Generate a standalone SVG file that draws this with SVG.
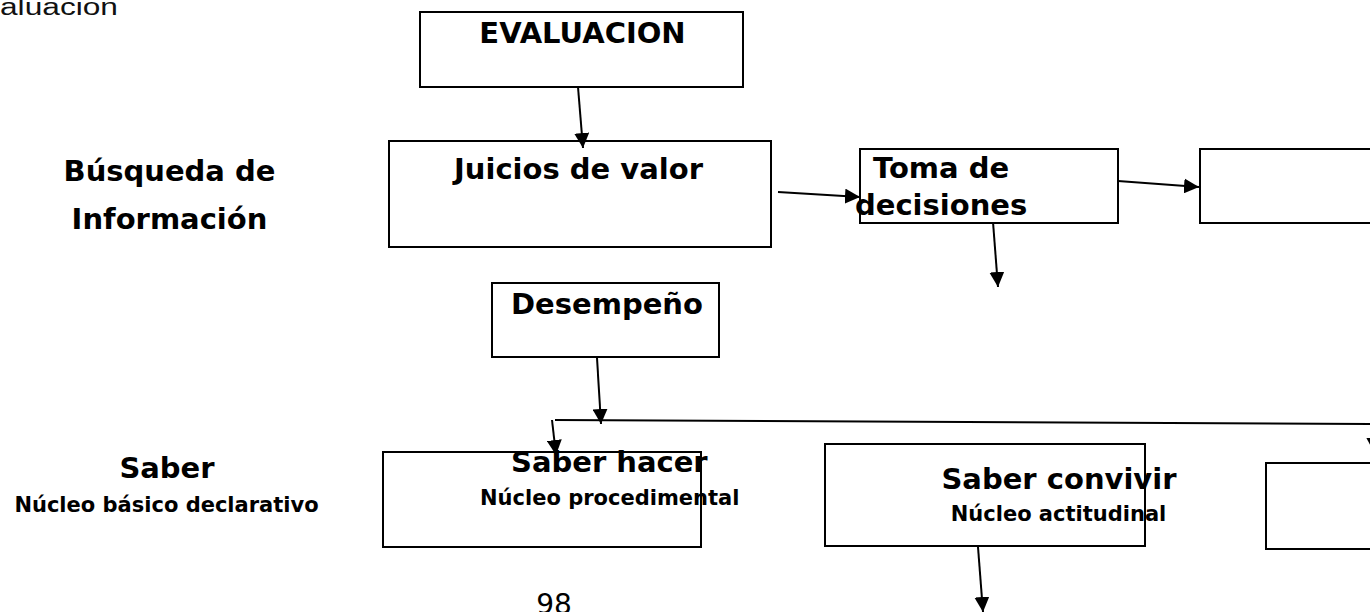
<svg xmlns="http://www.w3.org/2000/svg" width="1370" height="612" viewBox="0 0 1370 612">
<style>
.box{fill:#fff;stroke:#000;stroke-width:2}
.t{font-family:"DejaVu Sans",sans-serif;font-weight:bold;font-size:29px;fill:#000}
.s{font-family:"DejaVu Sans",sans-serif;font-weight:bold;font-size:21px;fill:#000}
.c line{stroke:#000;stroke-width:2;fill:none}
</style>
<defs>
<marker id="a" viewBox="0 0 10 10" refX="10" refY="5" markerWidth="15" markerHeight="15" markerUnits="userSpaceOnUse" orient="auto">
<path d="M0,0 L10,5 L0,10 z" fill="#000"/>
</marker>
</defs>
<text x="0" y="15" font-family="Liberation Sans, Arial, sans-serif" font-size="23" fill="#111" textLength="118" lengthAdjust="spacingAndGlyphs">aluacion</text>
<g id="n-evaluacion"><rect class="box" x="420" y="12" width="323" height="75"/><text class="t" x="582.5" y="43" text-anchor="middle">EVALUACION</text></g>
<g id="n-juicios"><rect class="box" x="389" y="141" width="382" height="106"/><text class="t" x="578.5" y="179" text-anchor="middle">Juicios de valor</text></g>
<g id="n-toma"><rect class="box" x="860" y="149" width="258" height="74"/><text class="t" x="873" y="178">Toma de</text><text class="t" x="855" y="215">decisiones</text></g>
<g id="n-right1"><rect class="box" x="1200" y="149" width="180" height="74"/></g>
<g id="n-desempeno"><rect class="box" x="492" y="283" width="227" height="74"/><text class="t" x="607" y="314" text-anchor="middle">Desempeño</text></g>
<g id="n-saberhacer"><rect class="box" x="383" y="452" width="318" height="95"/><text class="t" x="511" y="472">Saber hacer</text><text class="s" x="480" y="505">Núcleo procedimental</text></g>
<g id="n-saberconvivir"><rect class="box" x="825" y="444" width="320" height="102"/><text class="t" x="1059" y="489" text-anchor="middle">Saber convivir</text><text class="s" x="1058.5" y="521" text-anchor="middle">Núcleo actitudinal</text></g>
<g id="n-right2"><rect class="box" x="1266" y="463" width="120" height="86"/></g>
<g id="l-busqueda"><text class="t" x="169.5" y="181" text-anchor="middle">Búsqueda de</text><text class="t" x="169.5" y="229" text-anchor="middle">Información</text></g>
<g id="l-saber"><text class="t" x="167" y="478" text-anchor="middle">Saber</text><text class="s" x="166.5" y="512" text-anchor="middle">Núcleo básico declarativo</text></g>
<text x="554" y="614" text-anchor="middle" font-family="DejaVu Sans, sans-serif" font-size="28" fill="#000">98</text>
<g class="c" id="connectors">
<line x1="578" y1="87" x2="583" y2="148" marker-end="url(#a)"/>
<line x1="778" y1="192" x2="860" y2="197" marker-end="url(#a)"/>
<line x1="1118" y1="181" x2="1199" y2="187" marker-end="url(#a)"/>
<line x1="993" y1="222" x2="998" y2="287" marker-end="url(#a)"/>
<line x1="597" y1="358" x2="601" y2="424" marker-end="url(#a)"/>
<line x1="555" y1="420" x2="1370" y2="424"/>
<line x1="552" y1="420" x2="556" y2="455" marker-end="url(#a)"/>
<line x1="978" y1="547" x2="983" y2="612" marker-end="url(#a)"/>
<line x1="1373" y1="424" x2="1374" y2="452" marker-end="url(#a)"/>
</g>
</svg>
